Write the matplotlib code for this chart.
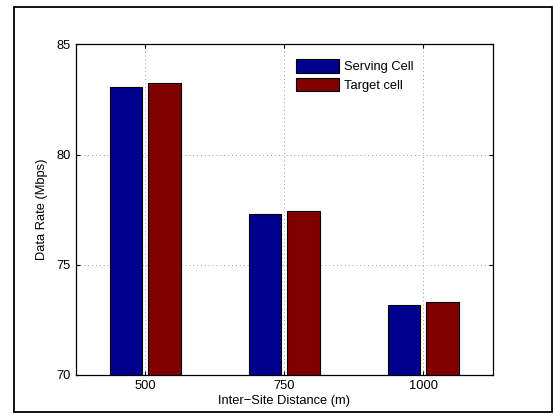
import matplotlib
matplotlib.use('Agg')
import matplotlib.pyplot as plt
import numpy as np
from matplotlib.patches import Rectangle

# data
distances = ['500', '750', '1000']
serving_cell = [83.08, 77.31, 73.16]
target_cell = [83.23, 77.42, 73.29]

plt.rcParams['font.family'] = ['Liberation Sans', 'DejaVu Sans']
plt.rcParams['font.size'] = 9.3

fig = plt.figure(figsize=(5.53, 4.16), dpi=100)

# outer frame around the whole figure
fig.patches.append(Rectangle((0.0253, 0.0096), 0.9727, 0.9734, transform=fig.transFigure,
                             fill=False, edgecolor='black', linewidth=1.3))

ax = fig.add_axes([0.1374, 0.0986, 0.754, 0.7945])

x = np.arange(1, len(distances) + 1)
w = 0.237
ax.bar(x - 0.14, serving_cell, w, color='#00008f', edgecolor='black', linewidth=0.8,
       label='Serving Cell', zorder=2)
ax.bar(x + 0.14, target_cell, w, color='#800000', edgecolor='black', linewidth=0.8,
       label='Target cell', zorder=2)

ax.set_xlim(0.5, 3.5)
ax.set_ylim(70, 85)
ax.set_xticks(x)
ax.set_xticklabels(distances)
ax.set_yticks([70, 75, 80, 85])

ax.grid(True, linestyle=(0, (1, 3)), color='#999999', linewidth=0.7, zorder=1)
ax.set_axisbelow(True)
ax.tick_params(direction='in', length=3, top=True, right=True, width=0.8)
for s in ax.spines.values():
    s.set_linewidth(0.9)

ax.set_xlabel('Inter\u2212Site Distance (m)', labelpad=2)
ax.set_ylabel('Data Rate (Mbps)', labelpad=6)

ax.legend(loc='upper left', bbox_to_anchor=(0.5, 0.99), frameon=False,
          handlelength=3.3, handleheight=1.2, handletextpad=0.4, labelspacing=0.35,
          fontsize=9.3)

fig.savefig('out.png', dpi=100)
